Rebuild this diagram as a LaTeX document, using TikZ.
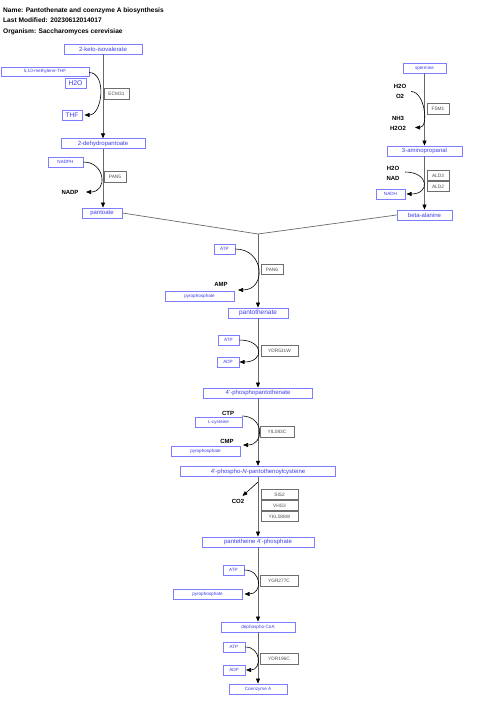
\documentclass[tikz,border=0pt]{standalone}
\usepackage{fontspec}
\setmainfont{Liberation Sans}
\usetikzlibrary{arrows.meta}
\definecolor{metb}{RGB}{125,125,255}
\definecolor{mett}{RGB}{60,60,235}
\definecolor{enzb}{RGB}{110,110,110}
\definecolor{enzt}{RGB}{80,80,80}
\definecolor{mainl}{RGB}{105,105,105}
\begin{document}
\begin{tikzpicture}[x=1pt,y=-1pt,
 met/.style={draw=metb, line width=0.8pt, text=mett, inner sep=0pt, minimum height=10, font=\fontsize{6}{7}\selectfont},
 metsm/.style={met, font=\fontsize{4.6}{5}\selectfont},
 enz/.style={draw=enzb, line width=0.6pt, text=enzt, fill=white, inner sep=0pt, minimum height=10.5, font=\fontsize{4.8}{5}\selectfont},
 lab/.style={inner sep=0pt, font=\bfseries\fontsize{6}{7}\selectfont},
 hdr/.style={inner sep=0pt, anchor=west, font=\bfseries\fontsize{6.6}{7}\selectfont},
 rxn/.style={draw=mainl, line width=0.7pt, -{Triangle[length=5pt,width=4pt,color=black]}},
 side/.style={draw=black, line width=0.6pt, -{Triangle[length=5pt,width=4pt]}},
]
\useasboundingbox (0,0) rectangle (480,712);
% header
\node[hdr] (h1) at (3,10.5) {Name: Pantothenate and coenzyme A biosynthesis};
\node[hdr] (h2) at (3,20.5) {Last Modified: 20230612014017};
\node[hdr] (h3) at (3,31.5) {Organism: Saccharomyces cerevisiae};

% left branch
\node[met, minimum width=78] (kiv) at (103,49) {2-keto-isovalerate};
\node[metsm, minimum width=88, minimum height=9] (mthf) at (45,71.5) {5,10-methylene-THF};
\node[met, minimum width=21, font=\fontsize{6.8}{7}\selectfont] (h2oa) at (75.5,83) {H2O};
\node[enz, minimum width=25] (ecm) at (116.5,94) {ECM31};
\node[met, minimum width=20, font=\fontsize{6.5}{7}\selectfont] (thf) at (72,115) {THF};
\node[met, minimum width=84, minimum height=9.5] (dhp) at (103,143.5) {2-dehydropantoate};
\node[metsm, minimum width=35] (nadph) at (65.5,162) {NADPH};
\node[enz, minimum width=22] (pan5) at (115,177) {PAN5};
\node[lab] (nadp) at (70,192) {NADP};
\node[met, minimum width=40] (pantoate) at (102,213) {pantoate};

\draw[rxn] (kiv.south) -- (dhp.north);
\draw[rxn] (dhp.south) -- (pantoate.north -| dhp.south);
\coordinate (c1s) at (89,72.5);
\coordinate (c1e) at (84.5,115);
\draw[side] (c1s) .. controls +(18,0) and +(18,0) .. (c1e);
\coordinate (c2e) at (86,192);
\draw[side] (nadph.east) .. controls +(22,0) and +(22,0) .. (c2e);

% right branch
\node[metsm, minimum width=43] (spm) at (424.5,68) {spermine};
\node[lab] (h2ob) at (400,86.5) {H2O};
\node[lab] (o2) at (400,96.5) {O2};
\node[enz, minimum width=22] (fsm) at (438,109) {FSM1};
\node[lab] (nh3) at (398,118) {NH3};
\node[lab] (h2o2) at (398,128) {H2O2};
\node[met, minimum width=75] (ampr) at (424.5,151) {3-aminopropanal};
\node[lab] (h2oc) at (393,168) {H2O};
\node[lab] (nad) at (393,178) {NAD};
\node[enz, minimum width=22] (ald3) at (438,175.5) {ALD3};
\node[enz, minimum width=22] (ald2) at (438,186.5) {ALD2};
\node[metsm, minimum width=29] (nadh) at (390.5,194) {NADH};
\node[met, minimum width=55] (bala) at (424.5,215) {beta-alanine};

\draw[rxn] (spm.south) -- (ampr.north);
\draw[rxn] (ampr.south) -- (bala.north);
\coordinate (c3s) at (411,91.5);
\coordinate (c3e) at (415,127.5);
\draw[side] (c3s) .. controls +(14,0) and +(14,0) .. (c3e);
\coordinate (c4s) at (405,172);
\coordinate (c4e) at (406.5,194);
\draw[side] (c4s) .. controls +(24,0) and +(24,0) .. (c4e);

% junction
\coordinate (j) at (258,234);
\draw[mainl, line width=0.7pt] (pantoate.east) -- (j) -- (bala.west);

% central chain
\node[metsm, minimum width=21] (atp1) at (224.5,249) {ATP};
\node[enz, minimum width=22] (pan6) at (272,269.5) {PAN6};
\node[lab] (amp) at (221,284) {AMP};
\node[metsm, minimum width=69] (ppi1) at (199.5,296) {pyrophosphate};
\node[met, minimum width=60, font=\fontsize{6.5}{7}\selectfont] (pth) at (258,313) {pantothenate};
\draw[rxn] (j) -- (pth.north);
\coordinate (c5e) at (238,290);
\draw[side] (atp1.east) .. controls +(29,0) and +(29,0) .. (c5e);

\node[metsm, minimum width=21] (atp2) at (228.5,340) {ATP};
\node[enz, minimum width=37] (ydr531) at (279.5,351) {YDR531W};
\node[metsm, minimum width=22] (adp2) at (228,362) {ADP};
\node[met, minimum width=109] (ppth) at (258,393) {4'-phosphopantothenate};
\draw[rxn] (pth.south) -- (ppth.north);
\coordinate (c6e) at (239.5,362);
\draw[side] (atp2.east) .. controls +(25,0) and +(25,0) .. (c6e);

\node[lab] (ctp) at (228,413) {CTP};
\node[metsm, minimum width=47, minimum height=9.5] (cys) at (218.5,422.5) {L-cysteine};
\node[enz, minimum width=34] (yil) at (277,432) {YIL083C};
\node[lab] (cmp) at (227,441) {CMP};
\node[metsm, minimum width=69] (ppi2) at (205.5,451) {pyrophosphate};
\node[met, minimum width=155, minimum height=10.5] (ppc) at (258,471.5) {4'-phospho-\textit{N}-pantothenoylcysteine};
\draw[rxn] (ppth.south) -- (ppc.north);
\coordinate (c7s) at (242,416);
\coordinate (c7e) at (243,445);
\draw[side] (c7s) .. controls +(22,0) and +(22,0) .. (c7e);

\node[lab] (co2) at (238,501) {CO2};
\node[enz, minimum width=37] (sis2) at (279.5,494.5) {SIS2};
\node[enz, minimum width=37] (vhs3) at (279.5,505.5) {VHS3};
\node[enz, minimum width=37] (ykl) at (279.5,516.5) {YKL088W};
\node[met, minimum width=112] (p4p) at (258,542) {pantetheine 4'-phosphate};
\draw[rxn] (ppc.south) -- (p4p.north);
\coordinate (c8s) at (258,482);
\coordinate (c8e) at (242.5,496);
\draw[side] (c8s) -- (c8e);

\node[metsm, minimum width=21] (atp3) at (233.5,570) {ATP};
\node[enz, minimum width=38] (ygr) at (279,581) {YGR277C};
\node[metsm, minimum width=69] (ppi3) at (207.5,594) {pyrophosphate};
\node[metsm, minimum width=74] (dpc) at (258,627) {dephospho-CoA};
\draw[rxn] (p4p.south) -- (dpc.north);
\coordinate (c9e) at (244.5,594);
\draw[side] (atp3.east) .. controls +(18,0) and +(18,0) .. (c9e);

\node[metsm, minimum width=22] (atp4) at (234,647) {ATP};
\node[enz, minimum width=38] (ydr196) at (279,659) {YDR196C};
\node[metsm, minimum width=22] (adp4) at (234,670) {ADP};
\node[metsm, minimum width=58] (coa) at (258,689) {Coenzyme A};
\draw[rxn] (dpc.south) -- (coa.north);
\coordinate (c10e) at (246,670);
\draw[side] (atp4.east) .. controls +(16,0) and +(16,0) .. (c10e);
\end{tikzpicture}
\end{document}
